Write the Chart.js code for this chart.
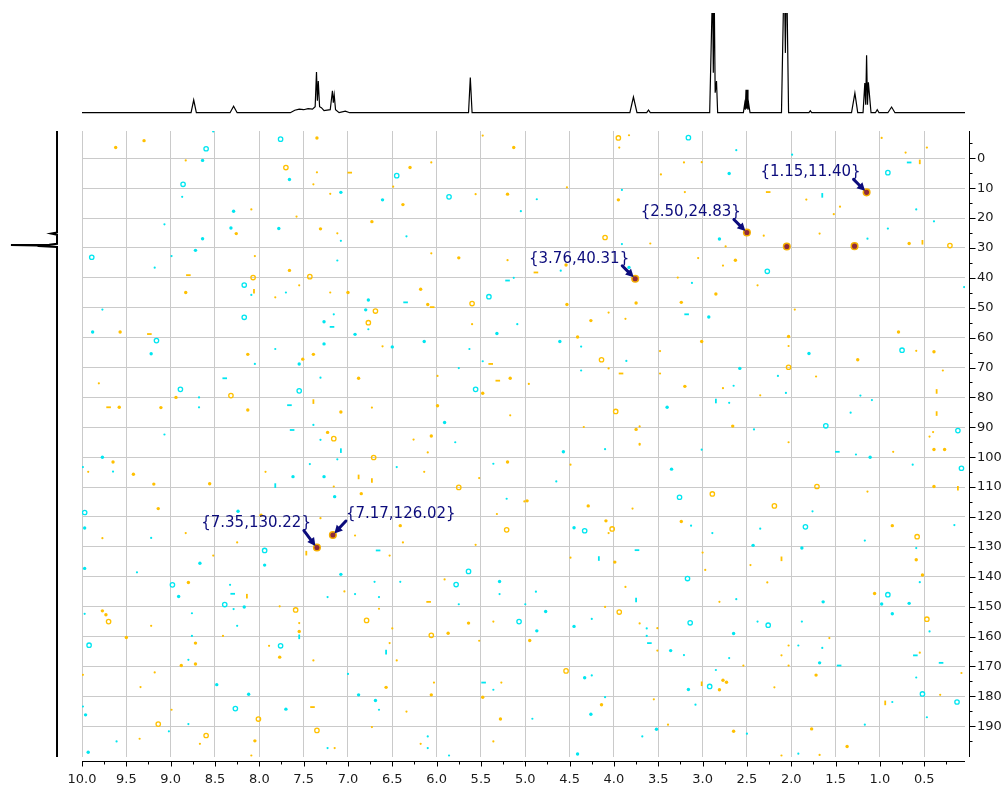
<!DOCTYPE html>
<html>
<head>
<meta charset="utf-8">
<script src="https://cdn.jsdelivr.net/npm/chart.js@4.4.1/dist/chart.umd.min.js"></script>
<style>
  html, body { margin: 0; padding: 0; background: #ffffff; }
  #wrap { position: relative; width: 1003px; height: 787px; }
  #wrap canvas { position: absolute; left: 0; top: 0; }
</style>
</head>
<body>
<div id="wrap">
  <canvas id="proton" width="1003" height="130"></canvas>
  <canvas id="carbon" width="80" height="787"></canvas>
  <canvas id="hsqc" width="1003" height="787"></canvas>
</div>
<script>
// ---- axis ticks (ppm) ----
const xTickValues = [10.0, 9.5, 9.0, 8.5, 8.0, 7.5, 7.0, 6.5, 6.0, 5.5, 5.0, 4.5, 4.0, 3.5, 3.0, 2.5, 2.0, 1.5, 1.0, 0.5];
const xMinorTickValues = [9.75, 9.25, 8.75, 8.25, 7.75, 7.25, 6.75, 6.25, 5.75, 5.25, 4.75, 4.25, 3.75, 3.25, 2.75, 2.25, 1.75, 1.25, 0.75, 0.25];
const yTickValues = [0, 10, 20, 30, 40, 50, 60, 70, 80, 90, 100, 110, 120, 130, 140, 150, 160, 170, 180, 190];
const yMinorTickValues = [-5, 5, 15, 25, 35, 45, 55, 65, 75, 85, 95, 105, 115, 125, 135, 145, 155, 165, 175, 185, 195];

// ---- 1H projection: [ppm, intensity] ----
const protonTrace = [
  [10.0, 0], [8.77, 0], [8.74, 12.7], [8.71, 0], [8.33, 0], [8.29, 6.4], [8.25, 0],
  [7.65, 0], [7.60, 2.5], [7.55, 3.5], [7.50, 3.0], [7.45, 4.0], [7.40, 3.5], [7.37, 6],
  [7.355, 40.7], [7.345, 12], [7.335, 31.7], [7.32, 6], [7.30, 5], [7.27, 2], [7.20, 3],
  [7.175, 22], [7.165, 10], [7.155, 17.7], [7.14, 3], [7.10, 0], [7.03, 1.5], [6.98, 0],
  [5.64, 0], [5.62, 35.4], [5.60, 0],
  [3.82, 0], [3.78, 15.7], [3.74, 0], [3.63, 0], [3.61, 2.7], [3.59, 0],
  [2.92, 0], [2.887, 130], [2.879, 40], [2.870, 130], [2.858, 20], [2.843, 31.7], [2.83, 0],
  [2.54, 0], [2.525, 9], [2.518, 3], [2.51, 23], [2.503, 4], [2.495, 23], [2.488, 3], [2.48, 9], [2.465, 0],
  [2.11, 0], [2.079, 150], [2.066, 60], [2.053, 150], [2.03, 0],
  [1.80, 0], [1.785, 2], [1.77, 0],
  [1.32, 0], [1.282, 19.7], [1.25, 0],
  [1.19, 0], [1.17, 29.7], [1.16, 8], [1.15, 57.7], [1.14, 8], [1.13, 30.4], [1.10, 0],
  [1.05, 0], [1.03, 3], [1.01, 0], [0.91, 0], [0.868, 5.7], [0.83, 0], [0.04, 0]
];

// ---- 13C projection: [ppm, intensity] ----
const carbonTrace = [
  [-9.1, 0], [24.8, 0], [25.2, 6], [25.6, 0], [28.6, 0], [28.9, 8], [29.0, 47],
  [29.2, 20], [29.35, 19], [29.7, 0], [200.3, 0]
];

// ---- assigned cross peaks ----
const peakH = [1.15, 2.50, 3.76, 7.35, 7.17];
const peakC = [11.40, 24.83, 40.31, 130.22, 126.02];
const otherPeaks = [[2.05, 29.5], [1.286, 29.4]];

// ---- positive contour levels (noise), [1H ppm, 13C ppm] ----
const posTiny = [
  [5.48,-7.6],[8.83,0.7],[7.35,4.7],[7.39,8.7],[6.49,9.5],[6.06,1.4],[8.09,17.1],[7.58,19.5],[7.20,11.9],[5.56,12.0],
  [7.12,25.1],[8.05,32.7],[6.06,31.8],[5.20,34.1],[7.82,46.5],[7.55,42.5],[7.20,44.9],[5.60,55.5],[6.61,62.9],[9.81,75.3],
  [5.99,72.8],[6.73,83.4],[5.17,86.0],[6.26,94.1],
  [3.94,-3.6],[3.83,-7.7],[3.21,1.4],[3.01,1.3],[3.47,5.4],[0.98,-6.8],[0.71,-1.9],[0.47,-3.6],[4.53,9.7],[3.20,11.3],
  [1.83,13.8],[1.45,16.2],[1.52,18.7],[3.59,28.5],[2.74,29.5],[2.31,25.9],[1.68,25.2],[3.05,33.4],[2.77,35.9],[3.28,39.9],
  [2.38,42.5],[4.06,51.6],[3.87,53.7],[1.96,50.6],[2.03,62.8],[3.48,64.5],[0.59,64.4],[0.29,71.0],[4.06,70.3],[3.48,72.0],
  [1.72,73.0],[4.96,75.5],[2.77,76.9],[2.35,79.3],[4.34,89.9],[3.71,89.7],[3.71,95.5],[2.03,95.0],[0.40,91.6],[0.44,93.1],
  [9.93,104.9],[7.93,104.9],[7.16,109.8],[6.10,98.4],[6.14,104.9],[5.52,107.0],[5.01,114.8],[9.77,127.1],[8.83,125.4],[8.25,128.5],
  [8.52,132.9],[7.31,120.4],[6.92,126.2],[6.38,128.5],[6.53,132.9],[5.32,119.0],[5.56,129.3],[7.77,149.9],[7.04,144.9],[6.65,150.7],
  [5.91,140.9],[5.36,155.0],[9.22,156.4],[7.55,155.5],[7.89,163.1],[7.39,168.0],[8.41,159.8],[6.50,157.3],[6.53,162.2],[6.45,168.0],
  [5.52,161.4],[9.99,172.8],[9.18,172.0],[9.34,176.9],[6.03,175.4],[5.27,175.4],[8.99,184.5],[6.34,185.1],[9.35,194.2],[8.67,195.9],
  [6.73,190.3],[6.18,195.9],[5.36,195.1],[7.15,197.3],[8.09,199.8],
  [3.71,95.8],[0.85,98.2],[4.49,102.5],[3.79,117.2],[1.14,111.5],[4.06,125.4],[4.49,133.6],[3.00,131.9],[2.97,137.7],[2.46,136.1],
  [3.87,143.4],[2.27,141.9],[2.81,148.4],[4.10,150.1],[3.71,155.6],[3.51,157.2],[3.51,164.7],[1.57,160.5],[2.03,163.0],[2.11,166.3],
  [2.54,169.7],[2.03,169.7],[0.55,165.4],[0.08,172.2],[2.19,177.0],[0.32,179.5],[3.55,181.0],[3.39,189.5],[2.11,199.8],[1.68,199.6]
];
const posDot = [
  [9.30,-5.9],[9.62,-3.6],[7.35,-6.8],[5.13,-3.6],[6.30,3.1],[6.38,15.5],[5.20,12.0],[8.26,25.2],[7.31,23.6],[6.73,21.2],
  [7.66,37.5],[5.75,33.3],[8.83,44.9],[7.00,44.9],[6.18,43.8],[6.10,48.9],[9.57,58.1],[8.13,65.6],[7.51,67.2],[7.39,65.6],
  [8.94,80.0],[6.88,73.6],[5.48,78.6],[5.17,73.6],[9.58,83.3],[9.11,83.4],[8.13,84.2],[7.08,84.9],[5.99,82.8],[7.23,91.7],[6.06,92.9],
  [3.95,13.9],[0.67,28.5],[4.54,35.7],[2.63,34.1],[2.85,45.4],[3.24,48.2],[3.75,48.4],[4.53,48.9],[4.26,54.3],[0.79,58.1],
  [4.41,59.8],[3.01,61.3],[2.03,59.6],[1.25,67.4],[0.39,64.7],[3.20,76.3],[3.75,90.7],[2.66,89.6],
  [9.65,101.6],[9.42,105.7],[9.19,109.0],[8.56,108.9],[6.85,112.2],[5.20,101.6],[9.14,117.2],[7.98,119.4],[6.41,122.9],[8.80,141.9],
  [5.64,155.5],[9.77,151.4],[9.73,152.7],[7.55,158.3],[7.77,166.9],[9.50,160.3],[8.72,162.2],[8.72,169.2],[8.88,169.7],[5.87,158.9],
  [6.57,177.0],[6.06,179.5],[5.48,180.3],[5.28,187.6],[8.05,194.9],
  [0.39,97.4],[0.27,97.4],[4.29,116.3],[0.39,109.8],[4.98,114.6],[4.09,121.3],[3.24,121.5],[0.86,122.9],[3.99,135.1],[0.59,134.3],
  [0.52,139.4],[1.06,145.6],[4.95,161.3],[2.77,174.6],[2.73,175.3],[2.81,177.8],[1.72,172.9],[4.14,182.8],[2.65,191.7],[1.77,190.9],[1.37,196.8]
];
const posDash = [
  [6.98,4.8],[8.80,39.1],[6.05,49.8],[9.24,58.8],[5.39,68.8],[5.31,74.4],[9.70,83.3],[2.26,11.3],[4.88,38.2],[3.92,72.0],
  [6.09,148.4],[7.40,183.6]
];
const posBar = [
  [8.06,44.5],[7.39,81.4],[0.55,1.2],[0.52,28.1],[0.36,78.0],[0.36,85.4],[6.88,106.6],[6.73,107.8],[7.47,132.1],[8.14,146.5],
  [0.12,110.4],[2.11,134.0],[3.01,175.8],[0.94,182.2]
];
const posRing = [
  [7.70,3.1],[8.07,39.9],[7.43,39.6],[5.60,48.6],[6.69,51.1],[6.77,55.0],[8.32,79.4],[7.16,93.8],[3.95,-6.8],[4.10,26.5],
  [0.21,29.2],[4.14,67.4],[2.03,69.9],[3.98,84.7],[6.71,100.1],[5.75,110.1],[5.21,124.3],[7.59,151.1],[6.79,154.6],[9.70,155.0],
  [6.06,159.6],[8.01,187.6],[9.14,189.3],[8.60,193.1],[7.35,191.4],[2.89,112.3],[2.19,116.3],[1.71,109.8],[4.02,124.0],[0.58,126.6],
  [3.94,151.8],[0.47,154.2],[4.54,171.5]
];

// ---- negative contour levels (noise), [1H ppm, 13C ppm] ----
const negTiny = [
  [8.52,-9.0],[8.87,12.9],[5.05,17.7],[9.07,22.1],[7.08,27.6],[6.34,26.1],[8.99,32.7],[9.18,36.6],[7.12,34.2],[5.13,40.0],
  [8.09,45.7],[7.70,44.9],[9.77,50.6],[7.16,52.2],[6.77,57.2],[5.09,55.5],[7.82,63.8],[8.05,68.8],[5.63,63.8],[5.48,67.9],
  [8.68,80.0],[7.31,73.4],[5.75,70.2],[8.68,83.3],[9.07,92.4],[7.39,89.2],[7.31,94.2],[5.79,95.0],
  [2.62,-2.7],[1.99,-1.2],[4.87,13.7],[3.91,10.6],[0.59,17.1],[0.39,21.1],[0.91,23.5],[3.91,28.7],[1.14,26.9],[4.60,37.6],
  [3.12,41.7],[0.05,43.1],[4.37,63.0],[3.86,67.8],[4.37,71.0],[2.15,72.8],[2.65,76.1],[2.06,78.5],[1.22,79.4],[1.09,80.9],
  [1.33,85.1],[2.70,81.8],[2.42,90.7],
  [9.99,103.3],[9.65,104.8],[7.43,102.3],[7.12,100.7],[6.45,103.3],[5.36,102.2],[5.21,113.9],[9.22,127.0],[9.38,138.5],[8.33,142.7],
  [8.29,150.8],[7.23,146.8],[6.92,145.8],[6.65,146.8],[6.70,141.7],[6.41,141.7],[5.75,149.2],[5.29,145.8],[9.97,152.4],[8.76,152.2],
  [8.25,156.4],[8.80,167.8],[8.76,159.8],[7.00,172.5],[5.36,177.8],[9.99,183.4],[6.65,184.5],[8.80,189.3],[9.02,191.7],[9.61,195.1],
  [6.10,193.4],[6.10,197.3],[7.23,197.3],[5.86,199.8],
  [4.10,97.3],[3.01,97.5],[1.27,99.1],[0.63,102.5],[4.65,108.1],[1.76,118.1],[3.13,122.9],[2.89,125.4],[2.35,123.9],[0.16,122.7],
  [1.17,127.9],[0.59,130.4],[0.55,141.8],[4.88,145.0],[2.62,147.5],[5.00,149.2],[4.25,154.1],[3.63,157.3],[3.63,159.8],[3.21,166.2],
  [2.38,155.0],[1.88,155.0],[1.65,163.8],[1.92,163.0],[2.70,167.2],[0.44,158.3],[4.25,173.0],[2.85,171.2],[0.59,173.7],[0.86,181.9],
  [0.47,187.0],[4.10,180.3],[4.92,187.5],[3.08,182.8],[3.68,193.4],[2.50,192.5],[1.17,189.5],[1.92,199.2]
];
const negDot = [
  [8.64,0.7],[7.66,7.1],[8.29,17.7],[7.08,11.4],[6.61,13.9],[8.32,23.3],[8.64,26.9],[7.78,23.5],[8.72,30.8],[6.77,47.4],
  [9.88,58.1],[9.22,65.4],[7.27,54.7],[6.80,50.7],[6.92,58.9],[5.32,58.6],[7.55,68.8],[7.27,62.1],[6.50,63.1],[6.14,61.3],[5.91,88.4],
  [2.70,5.1],[2.81,27.0],[3.83,36.5],[2.93,53.1],[4.61,61.3],[1.80,65.3],[2.58,70.3],[3.40,83.3],
  [9.77,100.0],[7.62,106.5],[7.27,106.5],[7.15,113.2],[9.97,123.7],[8.24,118.1],[7.94,136.1],[8.67,135.5],[9.97,137.2],[7.08,139.2],
  [8.91,146.6],[8.17,150.1],[5.29,141.6],[8.48,176.1],[8.12,179.3],[6.88,179.5],[9.96,186.2],[7.70,184.3],[6.69,181.4],[9.93,198.7],
  [4.57,98.2],[1.11,100.0],[3.35,104.0],[4.45,123.6],[2.43,129.5],[1.88,130.4],[1.64,148.4],[0.98,149.1],[0.67,148.9],[0.86,152.4],
  [4.77,151.6],[4.87,158.1],[4.45,156.6],[3.36,164.7],[2.65,159.0],[1.68,168.8],[4.33,173.8],[3.16,177.7],[4.26,186.0],[3.52,191.0],[4.41,199.3]
];
const negDash = [
  [5.20,40.9],[6.35,48.2],[7.18,56.4],[8.39,73.6],[7.66,82.6],[7.63,90.9],[0.67,1.4],[3.18,52.2],[6.66,131.2],[8.30,145.7],
  [5.47,175.4],[1.48,98.2],[3.74,131.1],[3.60,162.2],[1.46,169.7],[0.60,166.3],[0.31,168.8]
];
const negBar = [[1.65,12.4],[2.85,81.2],[7.82,109.5],[7.08,97.8],[7.55,160.1],[6.57,165.2],[4.17,133.9],[3.75,147.8]];
const negRing = [
  [8.60,-3.2],[7.76,-6.4],[8.86,8.7],[6.45,5.8],[5.86,12.9],[9.89,33.1],[8.17,42.4],[5.41,46.3],[9.16,61.0],[8.17,53.2],
  [8.89,77.3],[7.55,77.8],[5.56,77.3],[3.16,-6.9],[0.91,4.8],[2.27,37.8],[0.75,64.2],[1.61,89.5],[0.12,91.1],[9.97,118.5],
  [7.94,131.2],[5.64,138.2],[8.98,142.7],[8.39,149.3],[5.78,142.6],[5.07,155.0],[7.76,163.1],[9.92,162.9],[8.27,184.1],[0.08,103.7],
  [3.26,113.4],[4.33,124.6],[1.84,123.3],[3.17,140.6],[0.91,146.0],[3.14,155.4],[2.26,156.2],[2.92,176.7],[0.52,179.2],[0.13,181.9]
];

// ---- display constants ----
const H_MIN = 0.04, H_MAX = 10.0;
const C_MIN = -9.13, C_MAX = 200.3;
const POS = '#FFC000';
const NEG = '#00E6F0';
const LABEL = '#0C0C7C';
const labelSide = ['left', 'left', 'left', 'left', 'right'];
const labelLift = [20, 20, 20, 24, 21];
const TICK_FONT = { family: 'DejaVu Sans', size: 13 };

const toXY = arr => arr.map(([h, c]) => ({ x: h, y: c }));

function dotSet(arr, color, radius) {
  return { data: toXY(arr), pointStyle: 'circle', pointRadius: radius, pointBackgroundColor: color,
           pointBorderWidth: 0, pointBorderColor: color, showLine: false };
}
function lineSet(arr, color, rotation) {
  return { data: toXY(arr), pointStyle: 'line', pointRadius: 2.3, pointRotation: rotation,
           pointBorderColor: color, pointBorderWidth: 1.8, pointBackgroundColor: color, showLine: false };
}
function ringSet(arr, color) {
  return { data: toXY(arr), pointStyle: 'circle', pointRadius: 2.2, pointBackgroundColor: 'rgba(255,255,255,0)',
           pointBorderColor: color, pointBorderWidth: 1.3, showLine: false };
}

// axis lines stand a few pixels off the plotting area, with major and minor ticks
const detachedAxes = {
  id: 'detachedAxes',
  afterDraw(chart) {
    const { ctx, chartArea: a, scales: { x, y } } = chart;
    ctx.save();
    ctx.strokeStyle = '#000';
    ctx.lineWidth = 1;
    ctx.beginPath();
    const yb = Math.round(a.bottom + 4) + 0.5;
    ctx.moveTo(a.left, yb); ctx.lineTo(a.right, yb);
    xTickValues.forEach(v => { const p = Math.round(x.getPixelForValue(v)) + 0.5; ctx.moveTo(p, yb); ctx.lineTo(p, yb + 5); });
    xMinorTickValues.forEach(v => { const p = Math.round(x.getPixelForValue(v)) + 0.5; ctx.moveTo(p, yb); ctx.lineTo(p, yb + 3); });
    const xr = Math.round(a.right + 4) + 0.5;
    ctx.moveTo(xr, a.top); ctx.lineTo(xr, a.bottom);
    yTickValues.forEach(v => { const p = Math.round(y.getPixelForValue(v)) + 0.5; ctx.moveTo(xr, p); ctx.lineTo(xr + 6, p); });
    yMinorTickValues.forEach(v => { const p = Math.round(y.getPixelForValue(v)) + 0.5; ctx.moveTo(xr, p); ctx.lineTo(xr + 3, p); });
    ctx.stroke();
    ctx.restore();
  }
};

function drawArrow(ctx, x0, y0, x1, y1) {
  const a = Math.atan2(y1 - y0, x1 - x0);
  const head = 8, half = 4.2;
  const bx = x1 - head * Math.cos(a), by = y1 - head * Math.sin(a);
  ctx.beginPath();
  ctx.lineWidth = 3;
  ctx.lineCap = 'round';
  ctx.moveTo(x0, y0); ctx.lineTo(bx, by);
  ctx.stroke();
  ctx.beginPath();
  ctx.moveTo(x1, y1);
  ctx.lineTo(bx + half * Math.sin(a), by - half * Math.cos(a));
  ctx.lineTo(bx - half * Math.sin(a), by + half * Math.cos(a));
  ctx.closePath();
  ctx.fill();
}

// shift labels with pointer arrows for the assigned cross peaks
const peakLabels = {
  id: 'peakLabels',
  afterDatasetsDraw(chart) {
    const { ctx, scales: { x, y } } = chart;
    ctx.save();
    ctx.fillStyle = LABEL;
    ctx.strokeStyle = LABEL;
    ctx.font = '15px "DejaVu Sans"';
    ctx.textBaseline = 'middle';
    peakH.forEach((h, i) => {
      const c = peakC[i];
      const px = x.getPixelForValue(h), py = y.getPixelForValue(c);
      const right = labelSide[i] === 'right';
      const s = right ? 1 : -1;
      const lift = labelLift[i];
      drawArrow(ctx, px + s * 13, py - lift + 7, px + s * 1.5, py - 1.5);
      ctx.textAlign = right ? 'left' : 'right';
      ctx.fillText('{' + h.toFixed(2) + ',' + c.toFixed(2) + '}', px + (right ? 13 : -6), py - lift);
    });
    ctx.restore();
  }
};

// ---- 2D HSQC map ----
new Chart(document.getElementById('hsqc'), {
  type: 'scatter',
  data: {
    datasets: [
      dotSet(posTiny, POS, 1.1), dotSet(posDot, POS, 1.7), lineSet(posDash, POS, 0), lineSet(posBar, POS, 90), ringSet(posRing, POS),
      dotSet(negTiny, NEG, 1.1), dotSet(negDot, NEG, 1.7), lineSet(negDash, NEG, 0), lineSet(negBar, NEG, 90), ringSet(negRing, NEG),
      { data: toXY(otherPeaks.concat(peakH.map((h, i) => [h, peakC[i]]))), pointStyle: 'circle', pointRadius: 3.3,
        pointBackgroundColor: '#8E2A3C', pointBorderColor: '#F5AE00', pointBorderWidth: 1.5, showLine: false }
    ]
  },
  options: {
    responsive: false,
    animation: false,
    devicePixelRatio: 1,
    events: [],
    layout: { padding: { left: 82, top: 131, right: 0, bottom: 0 } },
    plugins: { legend: { display: false }, tooltip: { enabled: false } },
    scales: {
      x: {
        type: 'linear', position: 'bottom', reverse: true, min: H_MIN, max: H_MAX,
        afterBuildTicks: s => { s.ticks = xTickValues.map(v => ({ value: v })); },
        afterFit: s => { s.height = 30; },
        grid: { color: '#cacaca', lineWidth: 1, drawTicks: false },
        border: { display: false },
        ticks: { padding: 15, font: TICK_FONT, color: '#1a1a1a', maxRotation: 0, autoSkip: false,
                 callback: v => Number(v).toFixed(1) }
      },
      y: {
        type: 'linear', position: 'right', reverse: true, min: C_MIN, max: C_MAX,
        afterBuildTicks: s => { s.ticks = yTickValues.map(v => ({ value: v })); },
        afterFit: s => { s.width = 38; },
        grid: { color: '#cacaca', lineWidth: 1, drawTicks: false },
        border: { display: false },
        ticks: { padding: 12, font: TICK_FONT, color: '#1a1a1a', autoSkip: false, callback: v => String(v) }
      }
    }
  },
  plugins: [detachedAxes, peakLabels]
});

// ---- 1H projection on top ----
new Chart(document.getElementById('proton'), {
  type: 'scatter',
  data: { datasets: [{ data: protonTrace.map(([p, i]) => ({ x: p, y: i })), showLine: true, pointRadius: 0,
                       borderColor: '#000', borderWidth: 1.2, tension: 0 }] },
  options: {
    responsive: false, animation: false, devicePixelRatio: 1, events: [],
    layout: { padding: { left: 82, right: 38, top: 13, bottom: 16 } },
    plugins: { legend: { display: false }, tooltip: { enabled: false } },
    scales: {
      x: { type: 'linear', reverse: true, min: H_MIN, max: H_MAX, display: false },
      y: { type: 'linear', min: -1.3, max: 100, display: false }
    }
  }
});

// ---- 13C projection on the left ----
new Chart(document.getElementById('carbon'), {
  type: 'scatter',
  data: { datasets: [{ data: carbonTrace.map(([p, i]) => ({ x: i, y: p })), showLine: true, pointRadius: 0,
                       borderColor: '#000', borderWidth: 2, tension: 0 }] },
  options: {
    responsive: false, animation: false, devicePixelRatio: 1, events: [],
    layout: { padding: { left: 8, right: 22, top: 131, bottom: 30 } },
    plugins: { legend: { display: false }, tooltip: { enabled: false } },
    scales: {
      x: { type: 'linear', reverse: true, min: -1, max: 50, display: false },
      y: { type: 'linear', reverse: true, min: C_MIN, max: C_MAX, display: false }
    }
  }
});
</script>
</body>
</html>
